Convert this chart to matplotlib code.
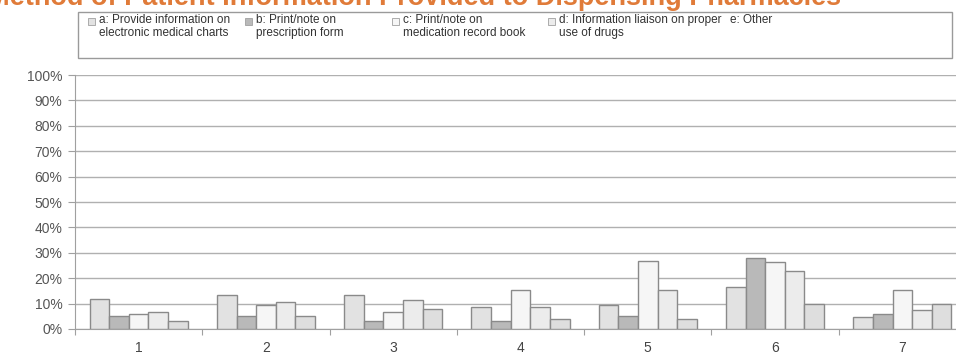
import numpy as np
import matplotlib
matplotlib.use("Agg")
from matplotlib import pyplot as plt
from matplotlib.patches import Rectangle

plt.rcParams["font.family"] = ["Liberation Sans", "DejaVu Sans"]

groups = ["1", "2", "3", "4", "5", "6", "7"]
series = ["a", "b", "c", "d", "e"]
legend_labels = [
    "a: Provide information on\nelectronic medical charts",
    "b: Print/note on\nprescription form",
    "c: Print/note on\nmedication record book",
    "d: Information liaison on proper\nuse of drugs",
    "e: Other",
]
a_vals = [11.8, 13.4, 13.4, 8.5, 9.6, 16.6, 4.9]
b_vals = [5.2, 5.2, 3.2, 3.3, 5.2, 28.0, 5.9]
c_vals = [5.9, 9.6, 6.5, 15.3, 26.6, 26.2, 15.3]
d_vals = [6.5, 10.5, 11.4, 8.5, 15.3, 22.9, 7.4]
e_vals = [3.3, 5.2, 7.9, 3.9, 3.9, 9.8, 9.8]

colors = ["#e2e2e2", "#b9b9b9", "#f6f6f6", "#ececec", "#dedede"]


def main():
    fig = plt.figure(figsize=(9.56, 3.58), dpi=100)
    ax = fig.add_axes([75 / 956, 29 / 358, 891 / 956, 254 / 358])

    values = [a_vals, b_vals, c_vals, d_vals, e_vals]
    x = np.arange(len(groups))
    w = 0.154
    for i, vals in enumerate(values):
        ax.bar(x + (i - 2) * w, np.array(vals) / 100, w, color=colors[i],
               edgecolor="#8a8a8a", linewidth=1.0, zorder=3)

    ax.set_ylim(0, 1)
    ax.set_xlim(-0.5, len(groups) - 0.5)
    ax.set_yticks(np.arange(0, 1.01, 0.1))
    ax.set_yticklabels([f"{int(round(v * 100))}%" for v in np.arange(0, 1.01, 0.1)],
                       color="#555555", fontsize=10)
    ax.yaxis.grid(True, color="#b0b0b0", linewidth=1.0, zorder=0)
    ax.tick_params(axis="y", length=5, color="#a0a0a0", pad=4)

    ax.set_xticks(np.arange(len(groups) + 1) - 0.5)
    ax.set_xticklabels([])
    ax.set_xticks(x, minor=True)
    ax.set_xticklabels(groups, minor=True, color="#444444", fontsize=10)
    ax.tick_params(axis="x", which="major", length=4, color="#a0a0a0")
    ax.tick_params(axis="x", which="minor", length=0, pad=9)

    for s in ["top", "right"]:
        ax.spines[s].set_visible(False)
    ax.spines["left"].set_color("#a0a0a0")
    ax.spines["bottom"].set_color("#a0a0a0")

    # title, clipped at the top
    fig.text(-13 / 956, 1 - 5 / 358, "Method of Patient Information Provided to Dispensing Pharmacies",
             color="#e07b39", fontsize=19.5, fontweight="bold", va="baseline", ha="left")

    # legend box
    fig.patches.append(Rectangle((78 / 956, 1 - 58 / 358), 874 / 956, 46 / 358,
                                 transform=fig.transFigure, facecolor="white",
                                 edgecolor="#9a9a9a", linewidth=1.0))
    lx = [88, 245, 392, 548, 707]
    for i, lab in enumerate(legend_labels):
        if i < 4:
            fig.patches.append(Rectangle((lx[i] / 956, 1 - 25 / 358), 7 / 956, 7 / 358,
                                         transform=fig.transFigure, facecolor=colors[i],
                                         edgecolor="#a0a0a0", linewidth=0.6))
        tx = lx[i] + 11 if i < 4 else 730
        fig.text(tx / 956, 1 - 14 / 358, lab, fontsize=8.5, va="top",
                 ha="left", color="#333333", linespacing=1.15)

    fig.savefig("out.png", dpi=100)


if __name__ == "__main__":
    main()
